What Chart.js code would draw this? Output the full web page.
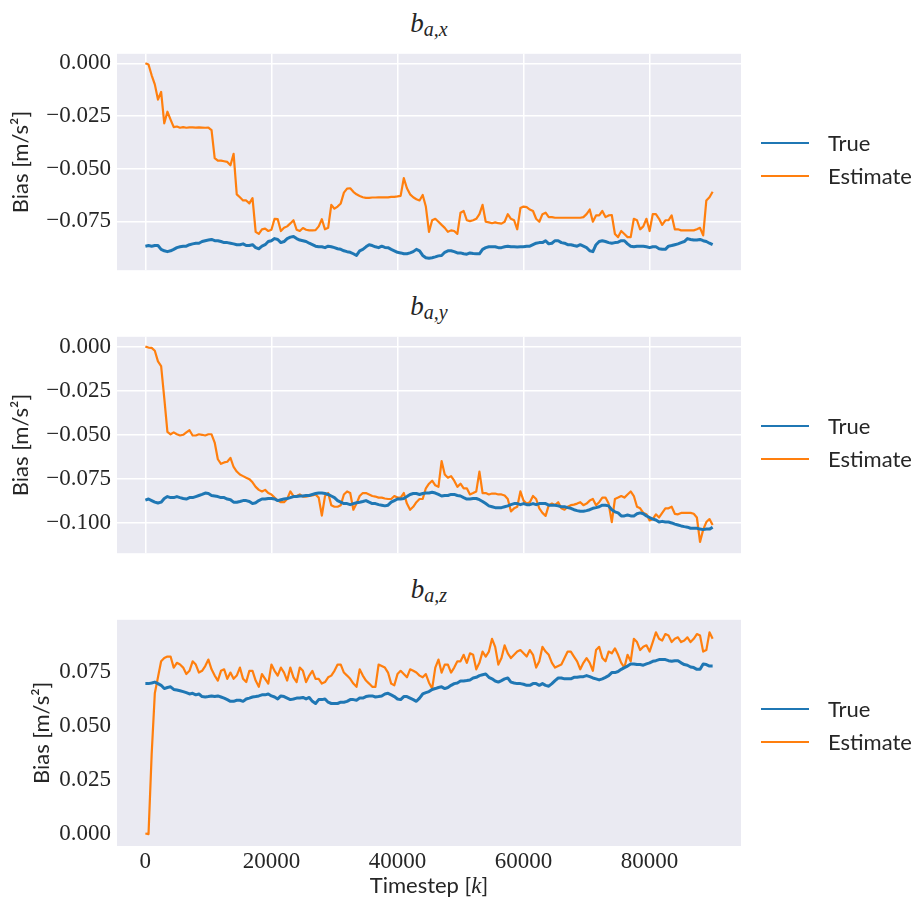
<!DOCTYPE html>
<html>
<head>
<meta charset="utf-8">
<script src="https://cdn.jsdelivr.net/npm/chart.js@4.4.1/dist/chart.umd.min.js"></script>
<style>
  body { margin: 0; background: #fff; }
  #page { position: relative; width: 918px; height: 906px; overflow: hidden; }
  .panel { position: absolute; left: 0; width: 918px; }
  .title {
    position: absolute; left: 117px; width: 624px; text-align: center;
    font-family: "Liberation Serif", serif; font-style: italic; font-size: 27px;
    line-height: 25px; color: #262626; white-space: nowrap;
  }
  .title sub { font-size: 20px; vertical-align: -4px; line-height: 0; }
  .legend { position: absolute; left: 761px; font-family: Lato, sans-serif; font-size: 22px; color: #262626; }
  .legend div { height: 33px; display: flex; align-items: center; white-space: nowrap; }
  .legend .swatch { display: inline-block; width: 48px; height: 2px; margin-right: 19px; }
  .xlabel {
    position: absolute; left: 117px; width: 624px; top: 872px; text-align: center;
    font-family: Lato, sans-serif; font-size: 22px; line-height: 26px; color: #262626;
  }
  .xlabel i { font-family: "Liberation Serif", serif; font-size: 23px; }
</style>
</head>
<body>
<div id="page">
  <div class="title" style="top:11px"><i>b</i><sub>a,x</sub></div>
  <div class="panel" style="top:34px;height:256px"><canvas id="chartX"></canvas></div>
  <div class="legend" id="legendX" style="top:126px"></div>

  <div class="title" style="top:294px"><i>b</i><sub>a,y</sub></div>
  <div class="panel" style="top:317px;height:256px"><canvas id="chartY"></canvas></div>
  <div class="legend" id="legendY" style="top:409px"></div>

  <div class="title" style="top:577px"><i>b</i><sub>a,z</sub></div>
  <div class="panel" style="top:600px;height:286px"><canvas id="chartZ"></canvas></div>
  <div class="legend" id="legendZ" style="top:692px"></div>

  <div class="xlabel">Timestep [<i>k</i>]</div>
</div>

<script>
// accelerometer bias, one sample every 500 timesteps (0 .. 90000)
const trueX = [
  -0.0868, -0.0865, -0.0868, -0.0865, -0.0865, -0.0883, -0.0890, -0.0894, -0.0890, -0.0883,
  -0.0875, -0.0871, -0.0868, -0.0868, -0.0861, -0.0857, -0.0854, -0.0854, -0.0846, -0.0842,
  -0.0839, -0.0836, -0.0842, -0.0842, -0.0846, -0.0851, -0.0851, -0.0854, -0.0857, -0.0861,
  -0.0861, -0.0857, -0.0865, -0.0865, -0.0861, -0.0875, -0.0880, -0.0868, -0.0861, -0.0846,
  -0.0842, -0.0832, -0.0836, -0.0851, -0.0846, -0.0832, -0.0825, -0.0822, -0.0832, -0.0839,
  -0.0842, -0.0846, -0.0854, -0.0861, -0.0868, -0.0871, -0.0871, -0.0875, -0.0868, -0.0871,
  -0.0875, -0.0880, -0.0883, -0.0890, -0.0894, -0.0897, -0.0904, -0.0912, -0.0890, -0.0883,
  -0.0871, -0.0861, -0.0865, -0.0871, -0.0875, -0.0868, -0.0874, -0.0875, -0.0883, -0.0890,
  -0.0897, -0.0900, -0.0904, -0.0904, -0.0900, -0.0894, -0.0883, -0.0890, -0.0912, -0.0923,
  -0.0925, -0.0923, -0.0919, -0.0914, -0.0912, -0.0897, -0.0890, -0.0890, -0.0894, -0.0900,
  -0.0900, -0.0904, -0.0906, -0.0900, -0.0903, -0.0904, -0.0904, -0.0883, -0.0875, -0.0871,
  -0.0871, -0.0871, -0.0875, -0.0875, -0.0871, -0.0868, -0.0871, -0.0871, -0.0872, -0.0871,
  -0.0871, -0.0868, -0.0868, -0.0861, -0.0854, -0.0851, -0.0851, -0.0842, -0.0857, -0.0854,
  -0.0842, -0.0842, -0.0851, -0.0854, -0.0861, -0.0861, -0.0865, -0.0868, -0.0861, -0.0868,
  -0.0875, -0.0890, -0.0894, -0.0861, -0.0846, -0.0842, -0.0846, -0.0851, -0.0854, -0.0851,
  -0.0849, -0.0842, -0.0842, -0.0857, -0.0868, -0.0871, -0.0868, -0.0868, -0.0868, -0.0871,
  -0.0875, -0.0871, -0.0871, -0.0880, -0.0883, -0.0883, -0.0868, -0.0865, -0.0861, -0.0857,
  -0.0851, -0.0846, -0.0832, -0.0836, -0.0839, -0.0839, -0.0836, -0.0842, -0.0846, -0.0854,
  -0.0861
];
const estX = [
  0.0000, -0.0006, -0.0057, -0.0100, -0.0172, -0.0136, -0.0285, -0.0230, -0.0267, -0.0303,
  -0.0300, -0.0306, -0.0303, -0.0306, -0.0304, -0.0304, -0.0305, -0.0304, -0.0305, -0.0306,
  -0.0305, -0.0317, -0.0450, -0.0462, -0.0462, -0.0465, -0.0468, -0.0484, -0.0430, -0.0622,
  -0.0636, -0.0651, -0.0651, -0.0665, -0.0640, -0.0800, -0.0810, -0.0788, -0.0785, -0.0796,
  -0.0790, -0.0738, -0.0740, -0.0796, -0.0781, -0.0774, -0.0760, -0.0745, -0.0790, -0.0796,
  -0.0782, -0.0790, -0.0793, -0.0793, -0.0792, -0.0774, -0.0740, -0.0788, -0.0781, -0.0672,
  -0.0690, -0.0680, -0.0665, -0.0614, -0.0595, -0.0593, -0.0610, -0.0622, -0.0630, -0.0636,
  -0.0639, -0.0639, -0.0637, -0.0637, -0.0636, -0.0636, -0.0636, -0.0636, -0.0634, -0.0634,
  -0.0632, -0.0629, -0.0545, -0.0593, -0.0622, -0.0636, -0.0645, -0.0651, -0.0625, -0.0680,
  -0.0800, -0.0745, -0.0738, -0.0752, -0.0767, -0.0781, -0.0800, -0.0793, -0.0796, -0.0810,
  -0.0709, -0.0701, -0.0745, -0.0749, -0.0745, -0.0738, -0.0716, -0.0672, -0.0752, -0.0755,
  -0.0759, -0.0755, -0.0759, -0.0761, -0.0752, -0.0716, -0.0738, -0.0745, -0.0788, -0.0687,
  -0.0680, -0.0683, -0.0694, -0.0701, -0.0738, -0.0752, -0.0716, -0.0709, -0.0730, -0.0730,
  -0.0733, -0.0733, -0.0733, -0.0733, -0.0733, -0.0733, -0.0733, -0.0733, -0.0733, -0.0730,
  -0.0716, -0.0694, -0.0752, -0.0722, -0.0722, -0.0701, -0.0730, -0.0722, -0.0720, -0.0810,
  -0.0825, -0.0796, -0.0810, -0.0825, -0.0825, -0.0738, -0.0745, -0.0788, -0.0774, -0.0738,
  -0.0796, -0.0716, -0.0716, -0.0738, -0.0767, -0.0745, -0.0745, -0.0722, -0.0788, -0.0788,
  -0.0793, -0.0793, -0.0793, -0.0793, -0.0793, -0.0788, -0.0781, -0.0817, -0.0651, -0.0636,
  -0.0610
];
const trueY = [
  -0.0872, -0.0866, -0.0875, -0.0884, -0.0889, -0.0884, -0.0863, -0.0852, -0.0858, -0.0858,
  -0.0852, -0.0858, -0.0863, -0.0866, -0.0858, -0.0858, -0.0852, -0.0846, -0.0840, -0.0832,
  -0.0835, -0.0846, -0.0849, -0.0852, -0.0858, -0.0858, -0.0866, -0.0870, -0.0884, -0.0884,
  -0.0880, -0.0875, -0.0875, -0.0880, -0.0892, -0.0887, -0.0875, -0.0866, -0.0866, -0.0863,
  -0.0863, -0.0866, -0.0875, -0.0870, -0.0866, -0.0863, -0.0858, -0.0852, -0.0852, -0.0849,
  -0.0849, -0.0846, -0.0846, -0.0840, -0.0835, -0.0832, -0.0832, -0.0835, -0.0840, -0.0849,
  -0.0858, -0.0875, -0.0884, -0.0892, -0.0892, -0.0898, -0.0892, -0.0887, -0.0884, -0.0880,
  -0.0875, -0.0884, -0.0892, -0.0892, -0.0898, -0.0901, -0.0905, -0.0901, -0.0884, -0.0875,
  -0.0866, -0.0866, -0.0863, -0.0852, -0.0840, -0.0835, -0.0835, -0.0840, -0.0835, -0.0832,
  -0.0832, -0.0828, -0.0832, -0.0840, -0.0849, -0.0846, -0.0846, -0.0840, -0.0840, -0.0846,
  -0.0849, -0.0858, -0.0866, -0.0866, -0.0863, -0.0863, -0.0870, -0.0880, -0.0892, -0.0905,
  -0.0910, -0.0915, -0.0915, -0.0915, -0.0910, -0.0905, -0.0898, -0.0892, -0.0892, -0.0898,
  -0.0892, -0.0898, -0.0898, -0.0892, -0.0898, -0.0892, -0.0892, -0.0892, -0.0901, -0.0901,
  -0.0901, -0.0905, -0.0910, -0.0910, -0.0915, -0.0919, -0.0927, -0.0932, -0.0936, -0.0936,
  -0.0932, -0.0927, -0.0919, -0.0915, -0.0910, -0.0901, -0.0901, -0.0905, -0.0927, -0.0939,
  -0.0945, -0.0962, -0.0962, -0.0957, -0.0962, -0.0962, -0.0950, -0.0945, -0.0950, -0.0962,
  -0.0971, -0.0980, -0.0985, -0.0997, -0.0993, -0.0997, -0.0997, -0.1002, -0.1009, -0.1014,
  -0.1019, -0.1023, -0.1026, -0.1032, -0.1032, -0.1032, -0.1037, -0.1040, -0.1037, -0.1037,
  -0.1026
];
const estY = [
  0.0000, -0.0005, -0.0007, -0.0023, -0.0084, -0.0110, -0.0292, -0.0484, -0.0498, -0.0487,
  -0.0498, -0.0505, -0.0501, -0.0487, -0.0475, -0.0505, -0.0505, -0.0498, -0.0501, -0.0505,
  -0.0498, -0.0498, -0.0545, -0.0640, -0.0666, -0.0658, -0.0654, -0.0632, -0.0684, -0.0710,
  -0.0727, -0.0736, -0.0745, -0.0753, -0.0771, -0.0797, -0.0814, -0.0823, -0.0814, -0.0832,
  -0.0840, -0.0858, -0.0875, -0.0884, -0.0884, -0.0866, -0.0823, -0.0849, -0.0849, -0.0840,
  -0.0852, -0.0852, -0.0849, -0.0846, -0.0840, -0.0858, -0.0960, -0.0849, -0.0832, -0.0901,
  -0.0910, -0.0910, -0.0901, -0.0840, -0.0823, -0.0832, -0.0927, -0.0892, -0.0849, -0.0832,
  -0.0832, -0.0840, -0.0849, -0.0852, -0.0858, -0.0858, -0.0863, -0.0866, -0.0866, -0.0849,
  -0.0858, -0.0858, -0.0832, -0.0892, -0.0927, -0.0910, -0.0884, -0.0866, -0.0866, -0.0805,
  -0.0779, -0.0762, -0.0788, -0.0797, -0.0650, -0.0727, -0.0745, -0.0736, -0.0762, -0.0797,
  -0.0779, -0.0805, -0.0805, -0.0840, -0.0832, -0.0823, -0.0710, -0.0832, -0.0832, -0.0840,
  -0.0835, -0.0835, -0.0840, -0.0840, -0.0846, -0.0866, -0.0936, -0.0919, -0.0910, -0.0823,
  -0.0875, -0.0892, -0.0884, -0.0849, -0.0866, -0.0919, -0.0945, -0.0962, -0.0901, -0.0892,
  -0.0901, -0.0884, -0.0919, -0.0927, -0.0910, -0.0901, -0.0898, -0.0892, -0.0884, -0.0901,
  -0.0892, -0.0875, -0.0866, -0.0901, -0.0884, -0.0858, -0.0858, -0.0892, -0.0997, -0.0866,
  -0.0858, -0.0849, -0.0858, -0.0840, -0.0823, -0.0849, -0.0910, -0.0919, -0.0945, -0.0953,
  -0.0988, -0.0980, -0.0953, -0.0971, -0.0945, -0.0919, -0.0919, -0.0910, -0.0950, -0.0953,
  -0.0945, -0.0945, -0.0945, -0.0945, -0.0950, -0.0971, -0.1110, -0.1040, -0.0997, -0.0980,
  -0.1014
];
const trueZ = [
  0.0696, 0.0696, 0.0699, 0.0703, 0.0696, 0.0688, 0.0673, 0.0678, 0.0681, 0.0669,
  0.0666, 0.0663, 0.0659, 0.0654, 0.0648, 0.0651, 0.0644, 0.0648, 0.0636, 0.0634,
  0.0636, 0.0639, 0.0636, 0.0639, 0.0634, 0.0629, 0.0622, 0.0614, 0.0614, 0.0619,
  0.0619, 0.0614, 0.0625, 0.0629, 0.0634, 0.0636, 0.0639, 0.0644, 0.0644, 0.0648,
  0.0639, 0.0634, 0.0625, 0.0639, 0.0636, 0.0629, 0.0622, 0.0625, 0.0629, 0.0629,
  0.0632, 0.0625, 0.0632, 0.0614, 0.0604, 0.0622, 0.0622, 0.0625, 0.0610, 0.0604,
  0.0604, 0.0604, 0.0610, 0.0610, 0.0614, 0.0622, 0.0622, 0.0619, 0.0629, 0.0629,
  0.0636, 0.0639, 0.0639, 0.0634, 0.0636, 0.0639, 0.0648, 0.0651, 0.0644, 0.0636,
  0.0625, 0.0622, 0.0636, 0.0636, 0.0629, 0.0622, 0.0614, 0.0629, 0.0648, 0.0654,
  0.0659, 0.0669, 0.0673, 0.0678, 0.0681, 0.0673, 0.0678, 0.0688, 0.0696, 0.0699,
  0.0708, 0.0708, 0.0710, 0.0713, 0.0722, 0.0725, 0.0733, 0.0737, 0.0740, 0.0725,
  0.0718, 0.0708, 0.0703, 0.0710, 0.0718, 0.0722, 0.0703, 0.0699, 0.0696, 0.0696,
  0.0693, 0.0688, 0.0688, 0.0696, 0.0696, 0.0688, 0.0696, 0.0688, 0.0684, 0.0696,
  0.0710, 0.0722, 0.0722, 0.0718, 0.0718, 0.0718, 0.0725, 0.0725, 0.0728, 0.0728,
  0.0733, 0.0728, 0.0722, 0.0718, 0.0713, 0.0718, 0.0725, 0.0733, 0.0747, 0.0747,
  0.0752, 0.0762, 0.0770, 0.0777, 0.0787, 0.0787, 0.0784, 0.0784, 0.0781, 0.0787,
  0.0792, 0.0799, 0.0802, 0.0807, 0.0807, 0.0807, 0.0802, 0.0799, 0.0802, 0.0802,
  0.0792, 0.0784, 0.0781, 0.0773, 0.0770, 0.0762, 0.0762, 0.0787, 0.0784, 0.0777,
  0.0777
];
const estZ = [
  0.0003, 0.0000, 0.0370, 0.0651, 0.0725, 0.0799, 0.0814, 0.0821, 0.0821, 0.0770,
  0.0792, 0.0784, 0.0770, 0.0740, 0.0755, 0.0799, 0.0784, 0.0747, 0.0755, 0.0777,
  0.0807, 0.0762, 0.0733, 0.0710, 0.0755, 0.0762, 0.0718, 0.0747, 0.0718, 0.0733,
  0.0770, 0.0718, 0.0703, 0.0755, 0.0755, 0.0710, 0.0681, 0.0740, 0.0718, 0.0696,
  0.0784, 0.0755, 0.0733, 0.0770, 0.0747, 0.0710, 0.0770, 0.0725, 0.0703, 0.0770,
  0.0755, 0.0703, 0.0733, 0.0755, 0.0718, 0.0718, 0.0696, 0.0703, 0.0725, 0.0733,
  0.0755, 0.0784, 0.0784, 0.0747, 0.0733, 0.0718, 0.0696, 0.0681, 0.0762, 0.0733,
  0.0710, 0.0696, 0.0681, 0.0681, 0.0784, 0.0777, 0.0770, 0.0747, 0.0696, 0.0688,
  0.0740, 0.0755, 0.0740, 0.0725, 0.0762, 0.0755, 0.0747, 0.0733, 0.0725, 0.0740,
  0.0700, 0.0673, 0.0770, 0.0807, 0.0747, 0.0784, 0.0784, 0.0747, 0.0770, 0.0799,
  0.0799, 0.0829, 0.0792, 0.0836, 0.0829, 0.0762, 0.0792, 0.0844, 0.0821, 0.0844,
  0.0903, 0.0866, 0.0784, 0.0814, 0.0873, 0.0836, 0.0814, 0.0829, 0.0844, 0.0851,
  0.0836, 0.0821, 0.0851, 0.0829, 0.0770, 0.0799, 0.0866, 0.0844, 0.0829, 0.0792,
  0.0770, 0.0777, 0.0784, 0.0814, 0.0844, 0.0844, 0.0821, 0.0799, 0.0762, 0.0792,
  0.0814, 0.0792, 0.0755, 0.0851, 0.0866, 0.0814, 0.0799, 0.0844, 0.0836, 0.0859,
  0.0829, 0.0792, 0.0770, 0.0829, 0.0799, 0.0903, 0.0888, 0.0851, 0.0866, 0.0873,
  0.0844, 0.0888, 0.0933, 0.0903, 0.0895, 0.0925, 0.0918, 0.0888, 0.0903, 0.0910,
  0.0888, 0.0895, 0.0910, 0.0888, 0.0903, 0.0925, 0.0918, 0.0844, 0.0851, 0.0933,
  0.0903
];

const STEP = 500;
const timesteps = trueX.map((_, i) => i * STEP);

const xTicks = [0, 20000, 40000, 60000, 80000];
const yTicksX = [0, -0.025, -0.05, -0.075];
const yTicksY = [0, -0.025, -0.05, -0.075, -0.1];
const yTicksZ = [0, 0.025, 0.05, 0.075];

const BLUE = '#1f77b4';
const ORANGE = '#ff7f0e';
const INK = '#262626';

// grey plot area behind the lines
const plotBg = {
  id: 'plotBg',
  beforeDraw(chart) {
    const {ctx, chartArea: a} = chart;
    ctx.save();
    ctx.fillStyle = '#eaeaf2';
    ctx.fillRect(a.left, a.top, a.right - a.left, a.bottom - a.top);
    ctx.restore();
  }
};

function fmt(v) {
  return (v < 0 ? '\u2212' : '') + Math.abs(v).toFixed(3);
}

function makeChart(id, legendId, trueData, estData, yMin, yMax, yTicks, bottomAxis) {
  const chart = new Chart(document.getElementById(id), {
    type: 'line',
    data: {
      labels: timesteps,
      datasets: [
        { label: 'True', data: trueData, borderColor: BLUE, borderWidth: 3 },
        { label: 'Estimate', data: estData, borderColor: ORANGE, borderWidth: 2.2 }
      ]
    },
    options: {
      responsive: true,
      maintainAspectRatio: false,
      animation: false,
      events: [],
      layout: { padding: { top: 10, right: 177, left: 0, bottom: 0 } },
      elements: { point: { radius: 0 }, line: { tension: 0, borderJoinStyle: 'round' } },
      plugins: { legend: { display: false }, tooltip: { enabled: false } },
      scales: {
        x: {
          type: 'linear',
          min: -4500,
          max: 94500,
          afterBuildTicks: s => { s.ticks = xTicks.map(v => ({ value: v })); },
          afterFit: s => { s.height = bottomAxis ? 40 : 10; },
          border: { display: false },
          grid: { display: !bottomAxis, color: '#ffffff', lineWidth: 1.5, drawTicks: false },
          ticks: {
            display: bottomAxis,
            padding: 2,
            color: INK,
            maxRotation: 0,
            font: { family: '"Liberation Serif", serif', size: 23 },
            callback: v => String(v)
          }
        },
        y: {
          min: yMin,
          max: yMax,
          afterBuildTicks: s => { s.ticks = yTicks.map(v => ({ value: v })); },
          afterFit: s => { s.width = 117; },
          border: { display: false },
          grid: { display: !bottomAxis, color: '#ffffff', lineWidth: 1.5, drawTicks: false },
          ticks: {
            padding: 6,
            color: INK,
            font: { family: '"Liberation Serif", serif', size: 23 },
            callback: v => fmt(v)
          },
          title: {
            display: true,
            text: 'Bias [m/s\u00b2]',
            color: INK,
            padding: { top: bottomAxis ? 29 : 8 },
            font: { family: 'Lato, sans-serif', size: 22 }
          }
        }
      }
    },
    plugins: [plotBg]
  });

  // html legend from the datasets
  const box = document.getElementById(legendId);
  chart.data.datasets.forEach(ds => {
    const row = document.createElement('div');
    const line = document.createElement('span');
    line.className = 'swatch';
    line.style.background = ds.borderColor;
    row.appendChild(line);
    row.appendChild(document.createTextNode(ds.label));
    box.appendChild(row);
  });
  return chart;
}

makeChart('chartX', 'legendX', trueX, estX, -0.0982, 0.0045, yTicksX, false);
makeChart('chartY', 'legendY', trueY, estY, -0.1174, 0.0056, yTicksY, false);
makeChart('chartZ', 'legendZ', trueZ, estZ, -0.0055, 0.0991, yTicksZ, true);
</script>
</body>
</html>
